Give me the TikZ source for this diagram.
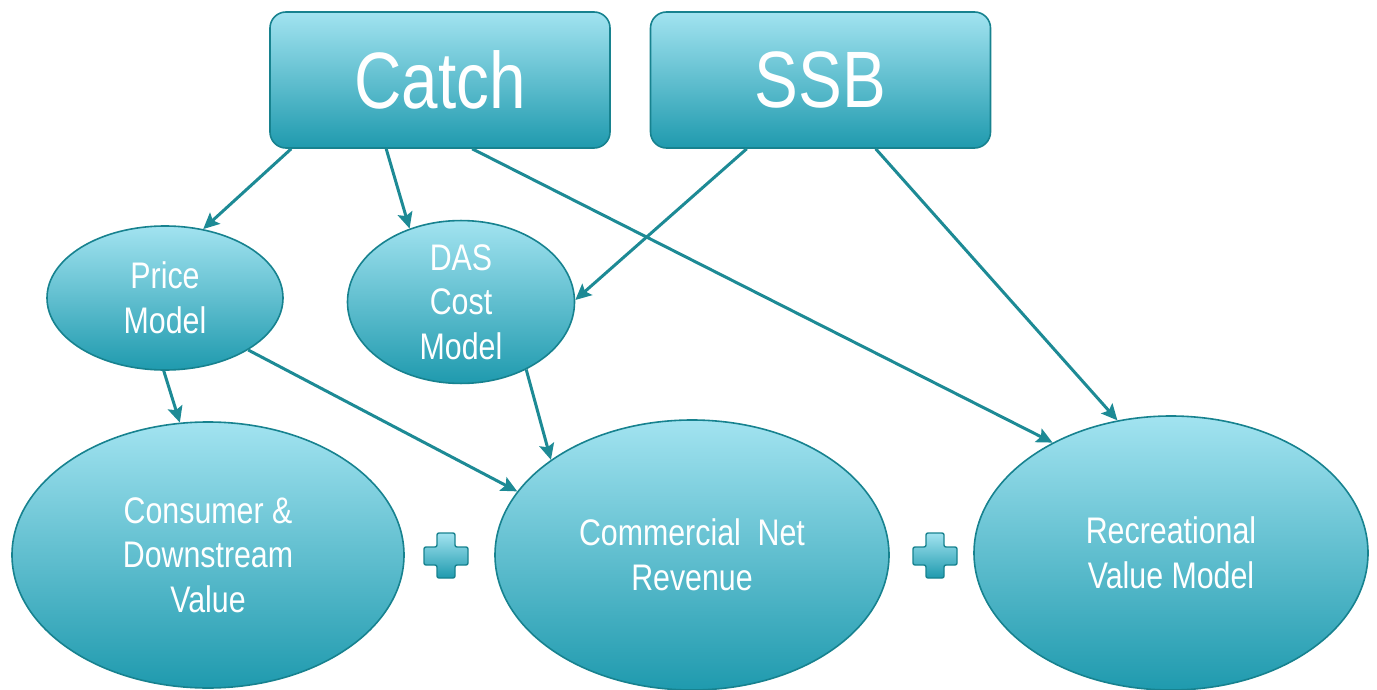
\documentclass[tikz,border=0pt]{standalone}
\usepackage{fontspec}
\setmainfont{Liberation Sans}[FakeStretch=0.82]
\usetikzlibrary{shapes.geometric,arrows.meta,calc}
\definecolor{topc}{HTML}{A2E3F0}
\definecolor{botc}{HTML}{1F9AAE}
\definecolor{edge}{HTML}{17828F}
\definecolor{arr}{HTML}{1D8A95}
\tikzset{
  box/.style={draw=edge, line width=1.6pt, rounded corners=16pt, top color=topc, bottom color=botc,
    minimum width=340pt, minimum height=136pt, inner sep=0pt, text=white,
    font=\fontsize{80}{90}\selectfont},
  oval/.style={ellipse, draw=edge, line width=1.6pt, top color=topc, bottom color=botc,
    inner sep=0pt, text=white, align=center, font=\fontsize{37}{44.5}\selectfont},
  conn/.style={draw=arr, line width=3pt, -{Stealth[length=16pt,width=15pt,inset=3pt]}},
  plusshape/.style={draw=edge, line width=1.4pt, rounded corners=2pt, top color=topc, bottom color=botc}
}
\begin{document}
\begin{tikzpicture}[x=1pt,y=-1pt]
\useasboundingbox (0,0) rectangle (1377,690);
\node[box] (catch) at (440,80) {Catch};
\node[box] (ssb) at (820.5,80) {SSB};
\node[oval, minimum width=236pt, minimum height=144pt] (price) at (165,298) {Price\\Model};
\node[oval, minimum width=227pt, minimum height=140pt] (das) at (461,302) {DAS\\Cost\\Model};
\node[oval, minimum width=392pt, minimum height=266pt] (cons) at (208,555) {Consumer \&\\Downstream\\Value};
\node[oval, minimum width=394pt, minimum height=270pt] (comm) at (692,555) {Commercial\ \ Net\\Revenue};
\node[oval, minimum width=394pt, minimum height=274pt] (rec) at (1171,553) {Recreational\\Value Model};
% plus signs
\foreach \cx/\nm in {446/plusA, 935/plusB}{
  \path[plusshape] (\cx-9,533) -- (\cx+9,533) -- (\cx+9,547) -- (\cx+22,547) -- (\cx+22,565)
     -- (\cx+9,565) -- (\cx+9,578) -- (\cx-9,578) -- (\cx-9,565) -- (\cx-22,565)
     -- (\cx-22,547) -- (\cx-9,547) -- cycle;
}
% connectors
\draw[conn] ($(catch.south west)+(22,0)$) -- (price.61);
\draw[conn] ($(catch.south west)+(117,0)$) -- (das.125);
\draw[conn] ($(catch.south west)+(203,0)$) -- (rec.137.6);
\draw[conn] ($(ssb.south west)+(97,0)$) -- (das.1);
\draw[conn] ($(ssb.south west)+(226,0)$) -- (rec.112.5);
\draw[conn] (price.269) -- (cons.102.8);
\draw[conn] (price.-32) -- (comm.160.8);
\draw[conn] (das.-46.4) -- (comm.146.8);
\end{tikzpicture}
\end{document}
